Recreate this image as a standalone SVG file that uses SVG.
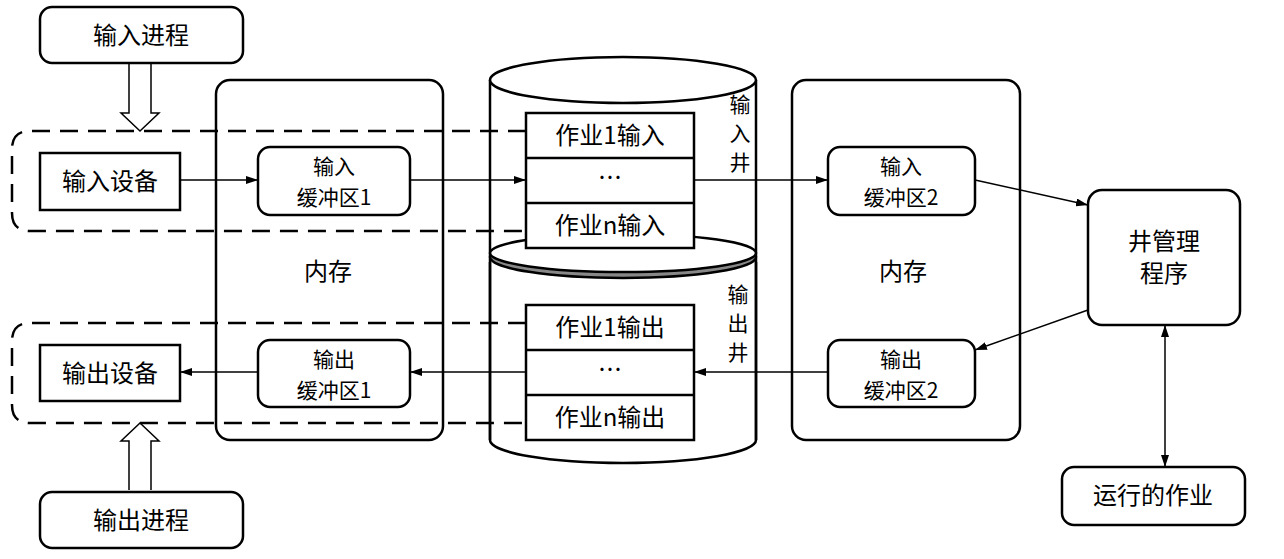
<svg xmlns="http://www.w3.org/2000/svg" width="1284" height="559" viewBox="0 0 1284 559">
<style>
.b{fill:#fff;stroke:#000;stroke-width:2.5}
.n{fill:none;stroke:#000;stroke-width:2.5}
.d{fill:none;stroke:#000;stroke-width:2.5;stroke-dasharray:18 10}
.l{stroke:#000;stroke-width:1.5;fill:none}
text{font-family:"Noto Sans CJK SC","Liberation Serif",serif;font-size:24px;text-anchor:middle;fill:#000}
.v{font-size:21px}
.s{font-size:21px}
</style>
<defs><marker id="a" markerWidth="12" markerHeight="8" refX="12" refY="4" orient="auto" markerUnits="userSpaceOnUse"><path d="M0,0 L12,4 L0,8 z"/></marker>
<marker id="s" markerWidth="12" markerHeight="8" refX="0" refY="4" orient="auto" markerUnits="userSpaceOnUse"><path d="M12,0 L0,4 L12,8 z"/></marker></defs>
<rect class="b" x="216" y="80" width="227" height="360" rx="14"/>
<rect class="b" x="792" y="80" width="228" height="360" rx="14"/>
<text x="328" y="280">内存</text><text x="903" y="280">内存</text>
<g id="cylinder">
<path class="b" d="M490,80 V440 A133,23 0 0 0 756,440 V80"/>
<ellipse class="b" cx="623" cy="80" rx="133" ry="23"/>
<ellipse cx="623" cy="257" rx="133" ry="21" fill="#888" stroke="#000" stroke-width="2.5"/>
<ellipse class="b" cx="623" cy="253" rx="133" ry="19"/>
<line class="n" x1="490" y1="262" x2="490" y2="440"/><line class="n" x1="756" y1="262" x2="756" y2="440"/>
</g>
<text class="v" x="740" y="112">输</text><text class="v" x="740" y="141">入</text><text class="v" x="740" y="170">井</text>
<text class="v" x="738" y="302">输</text><text class="v" x="738" y="331">出</text><text class="v" x="738" y="360">井</text>
<path class="d" d="M526,131 H30 Q12,131 12,149 V213 Q12,231 30,231 H526"/>
<path class="d" d="M526,323 H30 Q12,323 12,341 V405 Q12,423 30,423 H526"/>
<g id="inslots"><rect class="b" x="526" y="113" width="168" height="135"/><line class="n" x1="526" y1="158" x2="694" y2="158"/><line class="n" x1="526" y1="203" x2="694" y2="203"/>
<text x="610" y="144">作业1输入</text><text x="610" y="186">…</text><text x="610" y="234">作业n输入</text></g>
<g id="outslots"><rect class="b" x="526" y="305" width="168" height="135"/><line class="n" x1="526" y1="350" x2="694" y2="350"/><line class="n" x1="526" y1="395" x2="694" y2="395"/>
<text x="610" y="336">作业1输出</text><text x="610" y="378">…</text><text x="610" y="426">作业n输出</text></g>
<g id="inproc"><rect class="b" x="40" y="7" width="203" height="56" rx="12"/><text x="141" y="44">输入进程</text></g>
<g id="outproc"><rect class="b" x="40" y="492" width="203" height="56" rx="12"/><text x="141" y="529">输出进程</text></g>
<g id="indev"><rect class="b" x="40" y="153" width="140" height="57"/><text x="110" y="190">输入设备</text></g>
<g id="outdev"><rect class="b" x="40" y="345" width="140" height="56"/><text x="110" y="382">输出设备</text></g>
<g id="inbuf1"><rect class="b" x="258" y="147" width="152" height="68" rx="12"/><text class="s" x="334" y="174">输入</text><text class="s" x="334" y="205">缓冲区1</text></g>
<g id="outbuf1"><rect class="b" x="258" y="340" width="152" height="67" rx="12"/><text class="s" x="334" y="367">输出</text><text class="s" x="334" y="398">缓冲区1</text></g>
<g id="inbuf2"><rect class="b" x="828" y="147" width="147" height="68" rx="12"/><text class="s" x="901" y="174">输入</text><text class="s" x="901" y="205">缓冲区2</text></g>
<g id="outbuf2"><rect class="b" x="828" y="340" width="147" height="67" rx="12"/><text class="s" x="901" y="367">输出</text><text class="s" x="901" y="398">缓冲区2</text></g>
<g id="mgr"><rect class="b" x="1088" y="190" width="152" height="135" rx="14"/><text x="1164" y="250">井管理</text><text x="1164" y="282">程序</text></g>
<g id="run"><rect class="b" x="1062" y="467" width="183" height="58" rx="12"/><text x="1153" y="504">运行的作业</text></g>
<g id="connectors">
<path class="l" fill="#fff" d="M129,63 V113 H121 L140,131 L159,113 H151 V63"/>
<path class="l" fill="#fff" d="M129,490 V441 H121 L140,423 L159,441 H151 V490"/>
<line class="l" x1="180" y1="180" x2="258" y2="180" marker-end="url(#a)"/>
<line class="l" x1="410" y1="180" x2="526" y2="180" marker-end="url(#a)"/>
<line class="l" x1="694" y1="180" x2="828" y2="180" marker-end="url(#a)"/>
<line class="l" x1="975" y1="180" x2="1088" y2="205" marker-end="url(#a)"/>
<line class="l" x1="1088" y1="310" x2="975" y2="350" marker-end="url(#a)"/>
<line class="l" x1="828" y1="372" x2="694" y2="372" marker-end="url(#a)"/>
<line class="l" x1="526" y1="372" x2="410" y2="372" marker-end="url(#a)"/>
<line class="l" x1="258" y1="372" x2="180" y2="372" marker-end="url(#a)"/>
<line class="l" x1="1165" y1="325" x2="1165" y2="467" marker-start="url(#s)" marker-end="url(#a)"/>
</g>
</svg>
